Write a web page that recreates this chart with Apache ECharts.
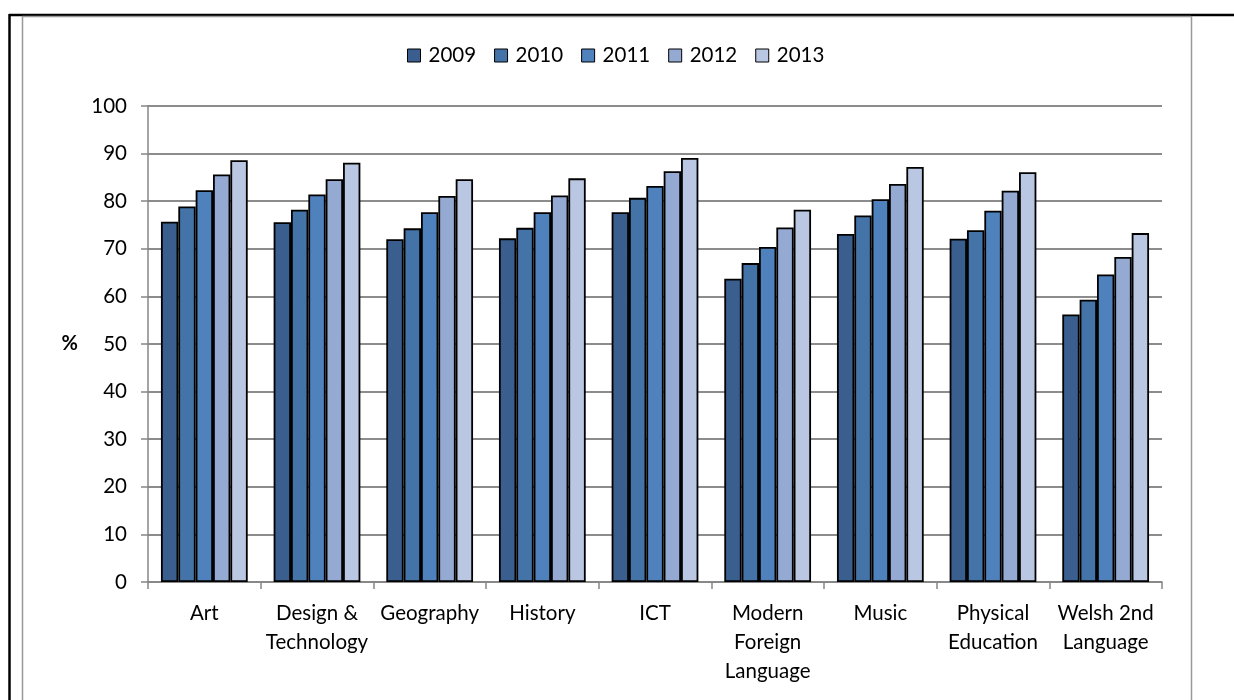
<!DOCTYPE html>
<html>
<head>
<meta charset="utf-8">
<script src="https://cdn.jsdelivr.net/npm/echarts@6/dist/echarts.min.js"></script>
<style>
html,body{margin:0;padding:0;background:#fff;}
#c{width:1234px;height:700px;}
</style>
</head>
<body>
<div id="c"></div>
<script>
const categories = ['Art', 'Design &\nTechnology', 'Geography', 'History', 'ICT', 'Modern\nForeign\nLanguage', 'Music', 'Physical\nEducation', 'Welsh 2nd\nLanguage'];
const years = ['2009', '2010', '2011', '2012', '2013'];
const v2009 = [75.7, 75.6, 72.0, 72.2, 77.7, 63.7, 73.1, 72.1, 56.2];
const v2010 = [78.9, 78.2, 74.3, 74.4, 80.7, 67.0, 77.0, 73.9, 59.3];
const v2011 = [82.3, 81.4, 77.7, 77.7, 83.2, 70.4, 80.4, 78.0, 64.6];
const v2012 = [85.6, 84.6, 81.1, 81.2, 86.3, 74.5, 83.6, 82.2, 68.3];
const v2013 = [88.6, 88.1, 84.6, 84.8, 89.1, 78.2, 87.2, 86.1, 73.3];
const yTicks = { min: 0, max: 100, interval: 10 };

const seriesValues = [v2009, v2010, v2011, v2012, v2013];
const colors = ['#3A5F8E', '#4473A8', '#4F81BD', '#95AAD2', '#B9C7E2'];
const font = 'Lato, "Open Sans", sans-serif';

const chart = echarts.init(document.getElementById('c'), null, { renderer: 'canvas' });
chart.setOption({
  animation: false,
  backgroundColor: '#fff',
  textStyle: { fontFamily: font },
  legend: {
    top: 40,
    left: 402,
    itemWidth: 13,
    itemHeight: 13,
    itemGap: 18,
    textStyle: { fontSize: 20.5, color: '#000', fontFamily: font, padding: [0, 0, 0, 3] },
    data: years.map(y => ({ name: y, icon: 'rect', itemStyle: { borderColor: '#000', borderWidth: 1 } }))
  },
  grid: { left: 148, right: 72, top: 106, bottom: 118, containLabel: false },
  xAxis: {
    type: 'category',
    data: categories,
    axisLine: { lineStyle: { color: '#868686', width: 1.5 } },
    axisTick: { show: true, alignWithLabel: false, length: 7, lineStyle: { color: '#868686', width: 1.5 } },
    axisLabel: { interval: 0, fontSize: 20.5, color: '#000', lineHeight: 29, margin: 17, fontFamily: font }
  },
  yAxis: {
    type: 'value',
    min: yTicks.min, max: yTicks.max, interval: yTicks.interval,
    name: '%',
    nameLocation: 'middle',
    nameGap: 70,
    nameRotate: 0,
    nameTextStyle: { fontSize: 20, fontWeight: 'bold', color: '#000', fontFamily: font },
    axisLine: { show: true, lineStyle: { color: '#868686', width: 1.5 } },
    axisTick: { show: true, length: 7, lineStyle: { color: '#868686', width: 1.5 } },
    axisLabel: { fontSize: 20.5, color: '#000', margin: 21, fontFamily: font },
    splitLine: { lineStyle: { color: '#8c8c8c', width: 2 } }
  },
  series: years.map((y, i) => ({
    name: y,
    type: 'bar',
    data: seriesValues[i],
    barGap: '0%',
    barCategoryGap: '23%',
    itemStyle: { color: colors[i], borderColor: '#000', borderWidth: 1.8 }
  })),
  graphic: [
    { type: 'line', shape: { x1: 9, y1: 15, x2: 1234, y2: 15 }, style: { stroke: '#000', lineWidth: 2.5 } },
    { type: 'line', shape: { x1: 9.5, y1: 14, x2: 9.5, y2: 700 }, style: { stroke: '#000', lineWidth: 2.5 } },
    { type: 'line', shape: { x1: 22.5, y1: 16, x2: 22.5, y2: 700 }, style: { stroke: '#999', lineWidth: 1.5 } },
    { type: 'line', shape: { x1: 22, y1: 16.5, x2: 1191, y2: 16.5 }, style: { stroke: '#999', lineWidth: 1.5 } },
    { type: 'line', shape: { x1: 1191.5, y1: 16, x2: 1191.5, y2: 700 }, style: { stroke: '#999', lineWidth: 1.5 } }
  ]
});
</script>
</body>
</html>
